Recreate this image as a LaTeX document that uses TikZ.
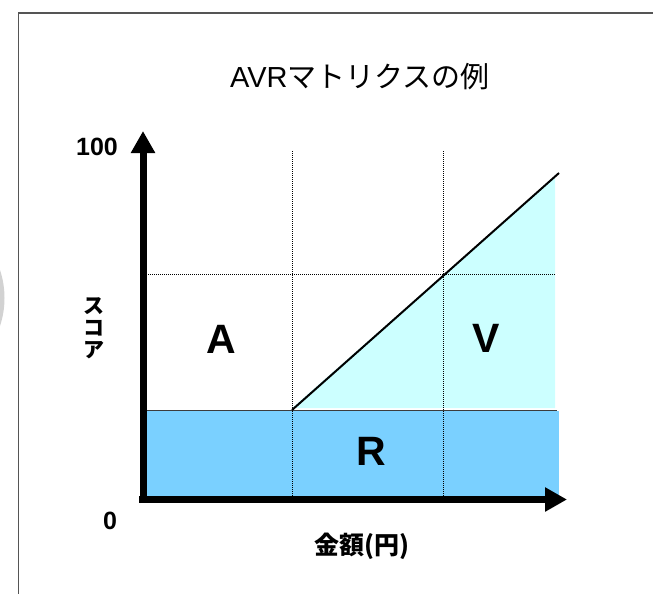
\documentclass[tikz,border=0pt]{standalone}
\usepackage{fontspec}
\setmainfont{Liberation Sans}
\newfontfamily\jpfont{Noto Sans CJK JP}
\usepackage{xcolor}
\definecolor{rcolour}{RGB}{122,208,255}
\definecolor{vcolour}{RGB}{204,255,255}
\definecolor{framecolour}{RGB}{85,85,85}
\definecolor{shadecolour}{RGB}{210,210,210}
\definecolor{edgecolour}{RGB}{60,60,60}
\usetikzlibrary{arrows.meta}
\tikzstyle{axis} = [line width=7pt, -{Triangle[length=22pt,width=23pt]}]
\tikzstyle{guide} = [line width=0.8pt, dash pattern=on 1pt off 1pt]
\tikzstyle{region} = [inner sep=0pt, font=\fontsize{41}{41}\selectfont\bfseries]
\tikzstyle{ticklabel} = [inner sep=0pt, font=\fontsize{25}{25}\selectfont\bfseries]
\tikzstyle{axisname} = [inner sep=0pt, align=center, font=\jpfont\bfseries\fontsize{25}{20}\selectfont]
\tikzstyle{verticalname} = [inner sep=0pt, align=center, font=\jpfont\bfseries\fontsize{21}{22}\selectfont]
\tikzstyle{heading} = [inner sep=0pt, font=\fontsize{29}{29}\selectfont]

\begin{document}
\begin{tikzpicture}[x=1pt, y=-1pt]
	\useasboundingbox (0,0) rectangle (653,594);
	% frame and shading at the left edge
	\fill[shadecolour] (0,270) .. controls (6,288) and (6,308) .. (0,326) -- cycle;
	\draw[framecolour, line width=1.5pt] (18.5,594) -- (18.5,13) -- (653,13);
	\node (title) [heading] at (360,77) {AVR{\jpfont マトリクスの例}};
	% regions
	\coordinate (kink) at (292,410);
	\coordinate (vtop) at (559,173);
	\fill[vcolour] (292,408) -- (555,176.6) -- (555,408) -- cycle;
	\fill[rcolour] (143,411) rectangle (559,499);
	\draw[guide] (292,151) -- (292,496);
	\draw[guide] (443,151) -- (443,496);
	\draw[guide] (146,274) -- (555,274);
	\draw[edgecolour, line width=1pt] (146,410) -- (557,410);
	\draw[line width=2pt] (kink) -- (vtop);
	% axes
	\coordinate (origin) at (143,503);
	\coordinate (ytip) at (143,131);
	\coordinate (xstart) at (139,499.5);
	\coordinate (xtip) at (567,499.5);
	\draw [axis] (origin) -- (ytip);
	\draw [axis] (xstart) -- (xtip);
	\node (top) [ticklabel] at (97,147) {100};
	\node (zero) [ticklabel] at (110,521) {0};
	\node (yname) [verticalname] at (94,328) {ス\\コ\\ア};
	\node (xname) [axisname] at (362,546) {金額(円)};
	\node (areaA) [region] at (221.5,339.5) {A};
	\node (areaV) [region] at (486,338) {V};
	\node (areaR) [region] at (371.5,451) {R};
\end{tikzpicture}
\end{document}
